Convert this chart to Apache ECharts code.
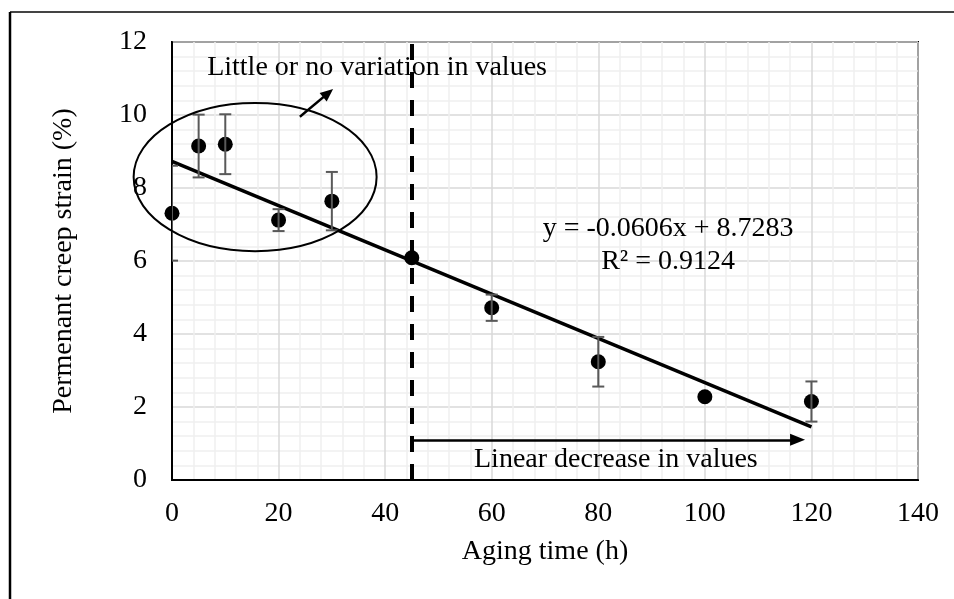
<!DOCTYPE html>
<html>
<head>
<meta charset="utf-8">
<script src="https://cdn.jsdelivr.net/npm/echarts@6/dist/echarts.min.js"></script>
<style>html,body{margin:0;padding:0;background:#fff;}#c{width:954px;height:599px;}</style>
</head>
<body>
<div id="c"></div>
<script>
// ---- data ----
const agingTime = [0, 5, 10, 20, 30, 45, 60, 80, 100, 120];
const creepStrain = [7.31, 9.15, 9.2, 7.12, 7.64, 6.09, 4.72, 3.24, 2.28, 2.15];
const errorBar = [1.3, 0.86, 0.82, 0.3, 0.8, 0, 0.36, 0.68, 0, 0.55];
const trendX = [0, 120];
const trendY = [8.7283, 1.4563];
const xTicks = [0, 20, 40, 60, 80, 100, 120, 140];
const yTicks = [0, 2, 4, 6, 8, 10, 12];
const dividerX = 45;
const equationText = ['y = -0.0606x + 8.7283', 'R² = 0.9124'];
const noteTop = 'Little or no variation in values';
const noteBottom = 'Linear decrease in values';

const FONT = '"Liberation Serif", "Times New Roman", serif';
const FS = 28;
const chart = echarts.init(document.getElementById('c'), null, {renderer: 'canvas'});

const pointData = agingTime.map((x, i) => [x, creepStrain[i]]);
const errData = agingTime.map((x, i) => [x, creepStrain[i], errorBar[i]]);
const trendData = trendX.map((x, i) => [x, trendY[i]]);

chart.setOption({
  animation: false,
  backgroundColor: '#fff',
  grid: {left: 172, right: 36, top: 42, bottom: 119, show: true, borderColor: '#000', borderWidth: 2, containLabel: false},
  xAxis: {
    type: 'value', min: xTicks[0], max: xTicks[xTicks.length - 1], interval: 20,
    name: 'Aging time (h)', nameLocation: 'middle', nameGap: 58,
    nameTextStyle: {fontFamily: FONT, fontSize: FS, color: '#000'},
    axisLine: {show: true, lineStyle: {color: '#000', width: 2}},
    axisTick: {show: false},
    axisLabel: {fontFamily: FONT, fontSize: FS, color: '#000', margin: 20},
    splitLine: {show: true, lineStyle: {color: '#d9d9d9', width: 1.5}},
    minorTick: {show: false, splitNumber: 5},
    minorSplitLine: {show: true, lineStyle: {color: '#f0f0f0', width: 1.5}}
  },
  yAxis: {
    type: 'value', min: yTicks[0], max: yTicks[yTicks.length - 1], interval: 2,
    name: 'Permenant creep strain (%)', nameLocation: 'middle', nameGap: 94,
    nameTextStyle: {fontFamily: FONT, fontSize: FS, color: '#000'},
    axisLine: {show: true, lineStyle: {color: '#000', width: 2}},
    axisTick: {show: false},
    axisLabel: {fontFamily: FONT, fontSize: FS, color: '#000', margin: 25},
    splitLine: {show: true, lineStyle: {color: '#d9d9d9', width: 1.5}},
    minorTick: {show: false, splitNumber: 5},
    minorSplitLine: {show: true, lineStyle: {color: '#f0f0f0', width: 1.5}}
  },
  series: [
    {
      type: 'line', data: trendData, symbol: 'none', z: 4,
      lineStyle: {color: '#000', width: 3.5},
      markLine: {
        silent: true, symbol: 'none', label: {show: false},
        lineStyle: {color: '#000', width: 4, type: [16, 12]},
        data: [{xAxis: dividerX}]
      }
    },
    {
      type: 'scatter', data: pointData, symbol: 'circle', symbolSize: 15, z: 3,
      itemStyle: {color: '#000', opacity: 1}
    },
    {
      type: 'custom', data: errData, clip: true, z: 5,
      renderItem: function (params, api) {
        const x = api.value(0), y = api.value(1), e = api.value(2);
        if (!e) return null;
        const t = api.coord([x, y + e]), b = api.coord([x, y - e]);
        const w = 6;
        const st = {stroke: '#595959', lineWidth: 2};
        return {type: 'group', children: [
          {type: 'line', shape: {x1: t[0], y1: t[1], x2: b[0], y2: b[1]}, style: st},
          {type: 'line', shape: {x1: t[0] - w, y1: t[1], x2: t[0] + w, y2: t[1]}, style: st},
          {type: 'line', shape: {x1: b[0] - w, y1: b[1], x2: b[0] + w, y2: b[1]}, style: st}
        ]};
      }
    },
    {
      type: 'scatter', data: [], z: 6,
      markLine: {
        silent: true, label: {show: false}, symbol: ['none', 'triangle'],
        lineStyle: {color: '#000', width: 2.5, type: 'solid'},
        data: [
          [{coord: [dividerX, 1.1], symbolSize: 0}, {coord: [117.4, 1.1], symbolSize: [12, 15]}],
          [{coord: [24.0, 9.95], symbolSize: 0}, {coord: [29.3, 10.6], symbolSize: [11, 13]}]
        ]
      }
    }
  ]
});

function px(x, y) { return chart.convertToPixel({gridIndex: 0}, [x, y]); }
const c = px(15.6, 8.3);
const r = px(15.6 + 22.8, 8.3 - 2.03);
const t1 = px(6.6, 11.29);
const eq1 = px(93.1, 6.88);
const eq2 = px(93.1, 5.98);
const lb = px(83.3, 0.55);
const txt = (pos, s, align) => ({
  type: 'text', x: pos[0], y: pos[1], z: 100,
  style: {text: s, font: FS + 'px ' + FONT, fill: '#000', align: align, verticalAlign: 'middle'}
});
chart.setOption({
  graphic: [
    {type: 'ellipse', shape: {cx: c[0], cy: c[1], rx: r[0] - c[0], ry: r[1] - c[1]}, style: {fill: 'none', stroke: '#000', lineWidth: 2}, z: 100},
    txt(t1, noteTop, 'left'),
    txt(eq1, equationText[0], 'center'),
    txt(eq2, equationText[1], 'center'),
    txt(lb, noteBottom, 'center'),
    {type: 'line', shape: {x1: 10, y1: 12, x2: 954, y2: 12}, style: {stroke: '#444', lineWidth: 2}, z: 100},
    {type: 'line', shape: {x1: 10, y1: 12, x2: 10, y2: 599}, style: {stroke: '#000', lineWidth: 2.5}, z: 100}
  ]
});
</script>
</body>
</html>
